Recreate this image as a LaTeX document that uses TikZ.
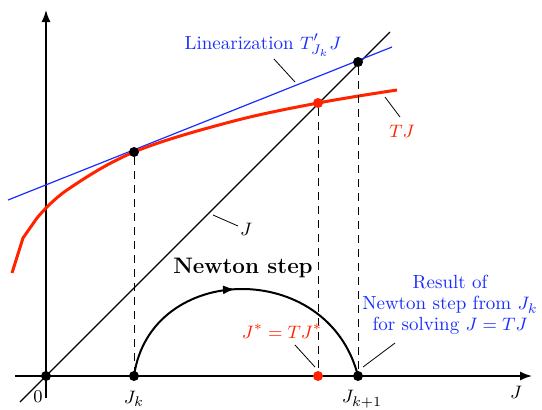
\documentclass[tikz,border=0pt]{standalone}
\usepackage{fontspec}
\usetikzlibrary{arrows.meta,decorations.markings}
\definecolor{cRed}{RGB}{255,35,0}
\definecolor{cBlue}{RGB}{25,45,255}
\tikzset{
  axis/.style={line width=0.75pt,-{Latex[length=6pt,width=4.5pt]}},
  dot/.style={circle,fill=black,inner sep=0pt,minimum size=5pt},
  rdot/.style={circle,fill=cRed,inner sep=0pt,minimum size=5pt},
  guide/.style={dashed,dash pattern=on 4pt off 3pt,line width=0.45pt},
  leader/.style={line width=0.4pt},
  lbl/.style={font=\fontsize{9.5}{11.5}\selectfont,inner sep=1pt}
}
\begin{document}
\begin{tikzpicture}[x=0.5pt,y=-0.5pt]
\useasboundingbox (0,0) rectangle (542,409);
% axes
\coordinate (xs) at (15,376); \coordinate (xe) at (532,376);
\coordinate (ys) at (46,398); \coordinate (ye) at (46,10);
\draw[axis] (xs) -- (xe);
\draw[axis] (ys) -- (ye);
% diagonal J
\coordinate (ds) at (20,402); \coordinate (de) at (390,32);
\draw[line width=0.6pt] (ds) -- (de);
% linearization
\coordinate (bs) at (8,200); \coordinate (be) at (392,47);
\draw[cBlue,line width=0.6pt] (bs) -- (be);
% TJ curve
\draw[cRed,line width=1.5pt,line join=round] (12,273) -- (23,238) -- (37,218) -- plot[smooth,tension=0.6] coordinates {(37,218) (67,190) (134,152) (230,122) (318,103) (397,90)};
% points
\node[dot] (O) at (46,376) {};
\node[dot] (Jk) at (134,376) {};
\node[rdot] (Js) at (318,376) {};
\node[dot] (Jk1) at (358,376) {};
\node[dot] (Pk) at (134,152) {};
\node[rdot] (Ps) at (318,103) {};
\node[dot] (Pk1) at (358,62) {};
% dashed guides
\draw[guide] (Pk) -- (Jk);
\draw[guide] (Ps) -- (Js);
\draw[guide] (Pk1) -- (Jk1);
% Newton step arc
\draw[line width=1pt,decoration={markings,mark=at position 0.47 with {\arrow{Latex[length=6pt,width=4.5pt]}}},postaction={decorate}]
  (Jk.center) .. controls (150,262) and (328,258) .. (Jk1.center);
% labels
\node[lbl,cBlue] (lin) at (263,45) {Linearization $T'_{J_k}J$};
\coordinate (l1a) at (274,59); \coordinate (l1b) at (295,82);
\draw[leader] (l1a) -- (l1b);
\node[lbl,cRed] (tj) at (402,131) {$TJ$};
\coordinate (l2a) at (385,97); \coordinate (l2b) at (400,117);
\draw[leader] (l2a) -- (l2b);
\node[lbl] (jl) at (246,229) {$J$};
\coordinate (l3a) at (213,215); \coordinate (l3b) at (238,226);
\draw[leader] (l3a) -- (l3b);
\node[lbl,font=\fontsize{11.2}{13}\selectfont\bfseries] (ns) at (243,268) {Newton step};
\node[lbl,cRed] (fix) at (282,331) {$J^*=TJ^*$};
\coordinate (l4a) at (295,345); \coordinate (l4b) at (315,367);
\draw[leader] (l4a) -- (l4b);
\node[lbl,cBlue,align=center] (res) at (450,305) {Result of\\[-1pt] Newton step from $J_k$\\[-1pt] for solving $J=TJ$};
\coordinate (l5a) at (363,367); \coordinate (l5b) at (395,343);
\draw[leader] (l5a) -- (l5b);
\node[lbl] (zero) at (38,397) {$0$};
\node[lbl] (jkl) at (134,399) {$J_k$};
\node[lbl] (jk1l) at (362,399) {$J_{k+1}$};
\node[lbl] (jax) at (516,392) {$J$};
\end{tikzpicture}
\end{document}
